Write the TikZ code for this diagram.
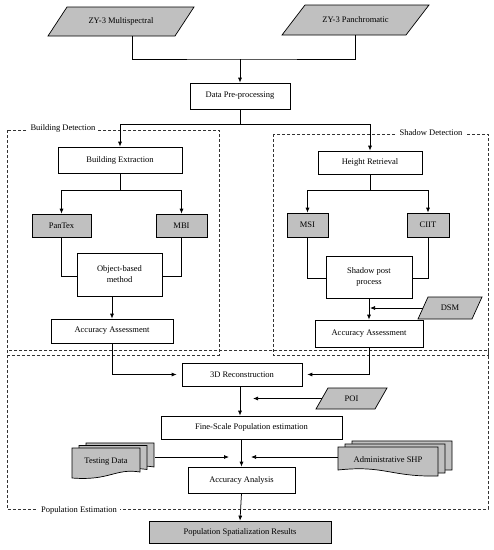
\documentclass[tikz,border=0pt]{standalone}
\usepackage{fontspec}
\setmainfont{Liberation Serif}
\usetikzlibrary{arrows.meta}
\definecolor{gfill}{HTML}{C0C0C0}
\tikzset{
  txt/.style={inner sep=0pt, align=center, font=\fontsize{8.5}{11}\selectfont},
  box/.style={txt, draw, line width=0.7pt, fill=white},
  gbox/.style={box, fill=gfill},
  conn/.style={line width=0.75pt},
  arr/.style={conn, -{Latex[length=5pt,width=4pt]}},
  frame/.style={line width=0.9pt, black!80, dash pattern=on 3pt off 2pt},
  flabel/.style={txt, fill=white, inner xsep=3pt, inner ysep=1pt},
  shp/.style={draw, line width=0.7pt, fill=gfill}
}
\newcommand{\parabox}[7]{%
  \filldraw[shp] (#2-#4/2+#6, #3-#5/2) -- (#2+#4/2+#6, #3-#5/2) -- (#2+#4/2-#6, #3+#5/2) -- (#2-#4/2-#6, #3+#5/2) -- cycle;
  \node[txt, minimum width=#4pt, minimum height=#5pt] (#1) at (#2,#3) {#7};}
\begin{document}
\begin{tikzpicture}[x=1pt, y=-1pt]
\useasboundingbox[fill=white] (0,0) rectangle (494,550);

% dashed frames
\draw[frame] (7,130) rectangle (219,355);
\draw[frame] (273,134) rectangle (488,355);
\draw[frame] (7,350) rectangle (488,509);
\node[flabel] (bdlab) at (63,128) {Building Detection};
\node[flabel] (sdlab) at (431,133) {Shadow Detection};
\node[flabel] (pelab) at (79,510) {Population Estimation};

% inputs
\parabox{ms}{121}{21.5}{127}{29}{9.5}{ZY-3 Multispectral}
\parabox{pan}{355.5}{20}{124}{30}{11.5}{ZY-3 Panchromatic}
\parabox{dsm}{450}{308}{54}{22}{5}{DSM}
\parabox{poi}{351.5}{398.5}{59}{21}{6}{POI}

% boxes
\node[box, minimum width=100pt, minimum height=26pt] (dp) at (240,96) {Data Pre-processing};
\node[box, minimum width=124pt, minimum height=26pt] (be) at (120,160) {Building Extraction};
\node[gbox, minimum width=59pt, minimum height=23pt] (pt) at (61.5,225.5) {PanTex};
\node[gbox, minimum width=51pt, minimum height=23pt] (mbi) at (181.5,225.5) {MBI};
\node[box, minimum width=85pt, minimum height=43pt] (ob) at (119.5,274.5) {Object-based\\method};
\node[box, minimum width=122pt, minimum height=24pt] (aa1) at (112,331) {Accuracy Assessment};

\node[box, minimum width=104pt, minimum height=23pt] (hr) at (370,162.5) {Height Retrieval};
\node[gbox, minimum width=41pt, minimum height=24pt] (msi) at (307.5,225) {MSI};
\node[gbox, minimum width=42pt, minimum height=24pt] (ciit) at (428,225) {CIIT};
\node[box, minimum width=86pt, minimum height=42pt] (sp) at (369,277) {Shadow post\\process};
\node[box, minimum width=108pt, minimum height=27pt] (aa2) at (369,333.5) {Accuracy Assessment};

\node[box, minimum width=120pt, minimum height=23pt] (rec) at (242,374.5) {3D Reconstruction};
\node[box, minimum width=181pt, minimum height=23pt] (fs) at (251.5,427.5) {Fine-Scale Population estimation};
\node[box, minimum width=107pt, minimum height=26pt] (acc) at (241.5,480) {Accuracy Analysis};
\node[gbox, minimum width=182pt, minimum height=22pt] (psr) at (240,532) {Population Spatialization Results};

% document stacks
\foreach \d in {14,7,0}{
  \filldraw[shp] (72+\d,448-\d*0.36) -- (140+\d,448-\d*0.36) -- (140+\d,472-\d*0.36)
     .. controls (115+\d,468-\d*0.36) and (110+\d,481-\d*0.36) .. (72+\d,478-\d*0.36) -- cycle;
}
\node[txt] (td) at (106,462) {Testing Data};
\foreach \d in {14,7,0}{
  \filldraw[shp] (338+\d,447-\d*0.43) -- (438+\d,447-\d*0.43) -- (438+\d,476-\d*0.43)
     .. controls (390+\d,477-\d*0.43) and (385+\d,465-\d*0.43) .. (338+\d,470-\d*0.43) -- cycle;
}
\node[txt] (adm) at (388,460) {Administrative SHP};

% coordinates
\coordinate (j0) at (240,59);
\coordinate (split) at (240,124);
\coordinate (s1) at (120,190);
\coordinate (s2) at (370,190);
\coordinate (poiend) at (253,398.5);
\coordinate (tdout) at (155,457);
\coordinate (tdend) at (229,457);
\coordinate (admout) at (338,457);
\coordinate (admend) at (251,457);

% connectors
\draw[conn] ([xshift=11pt]ms.south) |- (j0) -| (pan.south);
\draw[arr] (j0) -- (dp.north);
\draw[conn] (dp.south) -- (split);
\draw[arr] (split) -| (be.north);
\draw[arr] (split) -| (hr.north);

\draw[conn] (be.south) -- (s1);
\draw[arr] (s1) -| (pt.north);
\draw[arr] (s1) -| (mbi.north);
\draw[conn] (pt.south) |- ([yshift=-1.5pt]ob.west);
\draw[conn] (mbi.south) |- ([yshift=-1.5pt]ob.east);
\draw[arr] (aa1.north |- ob.south) -- (aa1.north);

\draw[conn] (hr.south) -- (s2);
\draw[arr] (s2) -| (msi.north);
\draw[arr] (s2) -| (ciit.north);
\draw[conn] (msi.south) |- ([yshift=-1pt]sp.west);
\draw[conn] (ciit.south) |- ([yshift=-1pt]sp.east);
\draw[arr] (sp.south) -- (aa2.north);
\draw[arr] (dsm.west) -- ([xshift=1pt]dsm.west -| sp.south);

\draw[arr] (aa1.south) |- ([xshift=-5pt]rec.west);
\draw[arr] (aa2.south) |- ([xshift=5pt]rec.east);
\draw[arr] ([xshift=-2pt]rec.south) -- ([xshift=-2pt]rec.south |- fs.north);
\draw[arr] (poi.west) -- (poiend);
\draw[arr] (fs.south -| acc.north) -- (acc.north);
\draw[arr] (tdout) -- (tdend);
\draw[arr] (admout) -- (admend);
\draw[arr] (acc.south) -- (psr.north);
\end{tikzpicture}
\end{document}
